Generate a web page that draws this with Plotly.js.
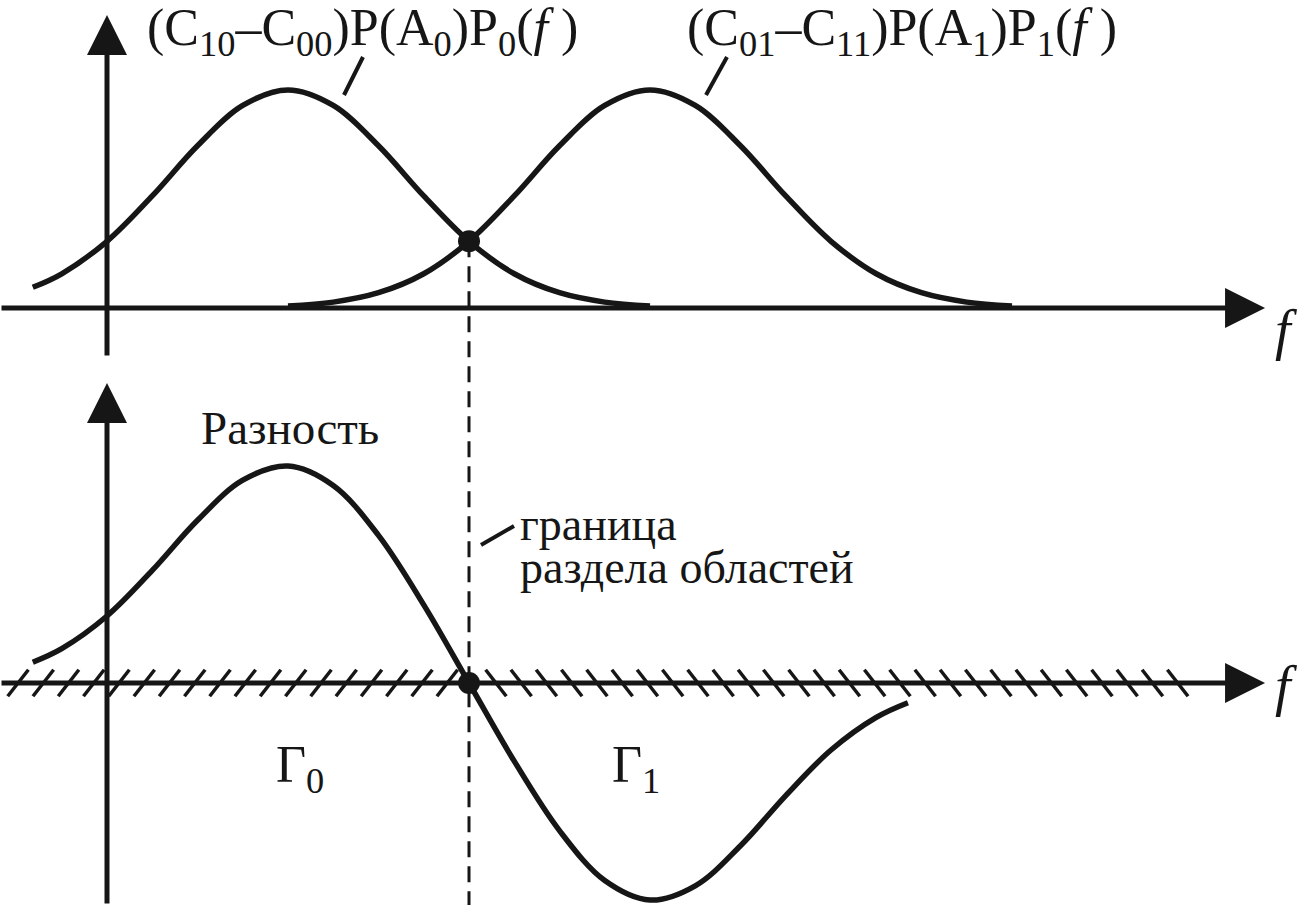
<!DOCTYPE html>
<html>
<head>
<meta charset="utf-8">
<script src="https://cdn.plot.ly/plotly-3.0.1.min.js"></script>
<style>html,body{margin:0;padding:0;background:#fff;}#chart{width:1309px;height:905px;}</style>
</head>
<body>
<div id="chart"></div>
<script>
// ---- data (f in arbitrary units, y-axis at f = 0) ----
const fCurve0 = [-0.82, -0.5, 0, 0.5, 1, 1.5, 2, 2.5, 3, 3.5, 4, 4.5, 5, 5.5, 6];
const valCurve0 = [0.095, 0.157, 0.306, 0.514, 0.744, 0.929, 1.0, 0.929, 0.744, 0.514, 0.306, 0.157, 0.070, 0.027, 0.009];

const fCurve1 = [2, 2.5, 3, 3.5, 4, 4.5, 5, 5.5, 6, 6.5, 7, 7.5, 8, 8.5, 9, 9.5, 10];
const valCurve1 = [0.009, 0.027, 0.070, 0.157, 0.306, 0.514, 0.744, 0.929, 1.0, 0.929, 0.744, 0.514, 0.306, 0.157, 0.070, 0.027, 0.009];

const fDiff = [-0.82, -0.5, 0, 0.5, 1, 1.5, 2, 2.5, 3, 3.5, 4, 4.5, 5, 5.5, 6, 6.5, 7, 7.5, 8, 8.5, 8.85];
const valDiff = [0.095, 0.157, 0.306, 0.514, 0.743, 0.926, 0.991, 0.902, 0.674, 0.357, 0, -0.357, -0.674, -0.902, -0.991, -0.926, -0.743, -0.514, -0.306, -0.157, -0.09];

const crossF = 4;          // boundary between regions
const crossVal = 0.306;    // value of both curves at the crossing

const label0 = "(C<sub>10</sub>–C<sub>00</sub>)P(A<sub>0</sub>)P<sub>0</sub>(<i>f</i> )";
const label1 = "(C<sub>01</sub>–C<sub>11</sub>)P(A<sub>1</sub>)P<sub>1</sub>(<i>f</i> )";
const labelDiff = "Разность";
const labelBoundary1 = "граница";
const labelBoundary2 = "раздела областей";
const labelG0 = "Γ<sub>0</sub>";
const labelG1 = "Γ<sub>1</sub>";
const axisLabel = "<i>f</i>";

// ---- styling / geometry ----
const W = 1309, H = 905;
const INK = '#161616';
const FONT = 'Liberation Serif, serif';
const xRange = [-1.1823, 13.2818];
const y1Range = [-2.7385, 1.4128];
const y2Range = [-1.0137, 3.1187];
const px = v => v / W;            // page pixel -> paper x
const py = v => 1 - v / H;        // page pixel -> paper y

// hatch pattern along the lower axis (decoration)
const hatchStep = 0.279;
const hatchLeft = [], hatchRight = [];
for (let f = -0.983; f < crossF - 0.15; f += hatchStep) hatchLeft.push(f);
for (let f = 4.298; f < 11.95; f += hatchStep) hatchRight.push(f);

const lineStyle = {color: INK, width: 5.5, shape: 'spline', smoothing: 1};

const traces = [
  {x: fCurve0, y: valCurve0, xaxis: 'x', yaxis: 'y', mode: 'lines', line: lineStyle, hoverinfo: 'skip'},
  {x: fCurve1, y: valCurve1, xaxis: 'x', yaxis: 'y', mode: 'lines', line: lineStyle, hoverinfo: 'skip'},
  {x: fDiff, y: valDiff, xaxis: 'x', yaxis: 'y2', mode: 'lines', line: lineStyle, hoverinfo: 'skip'},
  {x: hatchLeft, y: hatchLeft.map(() => 0), xaxis: 'x', yaxis: 'y2', mode: 'markers',
   marker: {symbol: 'line-ns', size: 24, angle: 38, color: INK, line: {color: INK, width: 3.5}}, hoverinfo: 'skip'},
  {x: hatchRight, y: hatchRight.map(() => 0), xaxis: 'x', yaxis: 'y2', mode: 'markers',
   marker: {symbol: 'line-ns', size: 24, angle: -38, color: INK, line: {color: INK, width: 3.5}}, hoverinfo: 'skip'},
  {x: [crossF], y: [crossVal], xaxis: 'x', yaxis: 'y', mode: 'markers',
   marker: {size: 22, color: INK}, hoverinfo: 'skip'},
  {x: [crossF], y: [0], xaxis: 'x', yaxis: 'y2', mode: 'markers',
   marker: {size: 22, color: INK}, hoverinfo: 'skip'}
];

function arrow(x, y, ax, ay, yref) {
  return {x: x, y: y, ax: ax, ay: ay, xref: 'x', yref: yref, axref: 'x', ayref: yref,
          text: '', showarrow: true, arrowhead: 2, arrowsize: 1.6, arrowwidth: 5, arrowcolor: INK, standoff: 0};
}
function label(text, x, y, size, xanchor) {
  return {text: text, x: px(x), y: py(y), xref: 'paper', yref: 'paper', showarrow: false,
          xanchor: xanchor || 'center', yanchor: 'middle', font: {family: FONT, size: size, color: INK}};
}

const annotations = [
  arrow(12.796, 0, xRange[0], 0, 'y'),
  arrow(0, 1.344, 0, -0.225, 'y'),
  arrow(12.796, 0, xRange[0], 0, 'y2'),
  arrow(0, 1.37, 0, y2Range[0], 'y2'),
  label(label0, 362, 32, 52),
  label(label1, 902, 32, 52),
  label(labelDiff, 290, 428, 47),
  label(labelBoundary1, 518, 524, 46, 'left'),
  label(labelBoundary2, 518, 567, 46, 'left'),
  label(labelG0, 300, 768, 52),
  label(labelG1, 636, 768, 52),
  label(axisLabel, 1286, 330, 56),
  label(axisLabel, 1286, 686, 56)
];

const shapes = [
  {type: 'line', xref: 'x', yref: 'y', x0: crossF, x1: crossF, y0: crossVal, y1: y1Range[0],
   line: {color: INK, width: 3, dash: '16px,9px'}, layer: 'below'},
  {type: 'line', xref: 'paper', yref: 'paper', x0: px(363), y0: py(57), x1: px(344), y1: py(95), line: {color: INK, width: 4}},
  {type: 'line', xref: 'paper', yref: 'paper', x0: px(727), y0: py(57), x1: px(706), y1: py(95), line: {color: INK, width: 4}},
  {type: 'line', xref: 'paper', yref: 'paper', x0: px(481), y0: py(545), x1: px(514), y1: py(526), line: {color: INK, width: 4}}
];

const hidden = {visible: false, showgrid: false, zeroline: false, fixedrange: true};
const layout = {
  width: W, height: H,
  margin: {l: 0, r: 0, t: 0, b: 0, pad: 0},
  paper_bgcolor: '#fff', plot_bgcolor: '#fff',
  showlegend: false,
  font: {family: FONT, color: INK},
  xaxis: Object.assign({range: xRange, domain: [0, 1], anchor: 'y'}, hidden),
  yaxis: Object.assign({range: y1Range, domain: [0, 1], anchor: 'x'}, hidden),
  yaxis2: Object.assign({range: y2Range, overlaying: 'y', anchor: 'x'}, hidden),
  annotations: annotations,
  shapes: shapes
};

Plotly.newPlot('chart', traces, layout, {staticPlot: true, displayModeBar: false});
</script>
</body>
</html>
